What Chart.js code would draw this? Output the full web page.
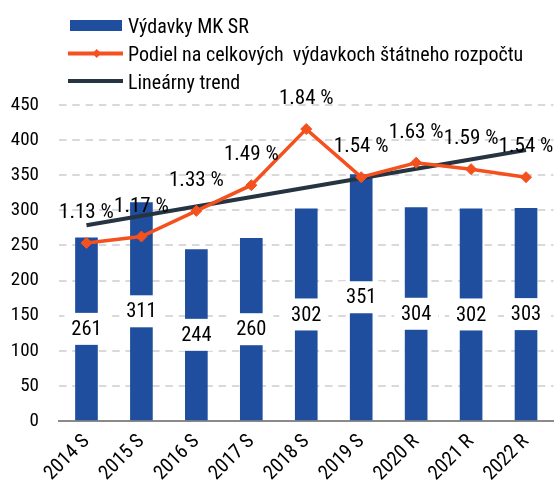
<!DOCTYPE html>
<html>
<head>
<meta charset="utf-8">
<script src="https://cdn.jsdelivr.net/npm/chart.js@4.4.1/dist/chart.umd.min.js"></script>
<style>
  html, body { margin: 0; padding: 0; background: #fff; }
  #wrap { position: relative; width: 560px; height: 485px; overflow: hidden; }
  canvas { position: absolute; left: 0; top: 0; }
  .leg { position: absolute; left: 0; top: 0; font-family: Roboto, 'Liberation Sans', Arial, sans-serif; font-stretch: condensed; font-size: 20px; color: #000; }
  .row { position: absolute; left: 68px; height: 28px; white-space: pre; }
  .row span { position: absolute; left: 60px; top: 1px; line-height: 28px; white-space: pre; }
  .row svg { position: absolute; left: 0; top: 0; }
</style>
</head>
<body>
<div id="wrap">
  <canvas id="c" width="560" height="485"></canvas>
  <div class="leg">
    <div class="row" style="top:11px"><svg width="56" height="28"><rect x="2" y="9" width="52" height="11" fill="#1f4e9e"/></svg><span id="l0"></span></div>
    <div class="row" style="top:39px"><svg width="56" height="28"><line x1="0" y1="14.5" x2="55" y2="14.5" stroke="#f4511e" stroke-width="4"/><path d="M28.7 10 L33 14.5 L28.7 19 L24.4 14.5 Z" fill="#f4511e"/></svg><span id="l1"></span></div>
    <div class="row" style="top:67px"><svg width="56" height="28"><line x1="0" y1="14" x2="55" y2="14" stroke="#263340" stroke-width="4"/></svg><span id="l2"></span></div>
  </div>
</div>
<script>
const categories = ['2014 S', '2015 S', '2016 S', '2017 S', '2018 S', '2019 S', '2020 R', '2021 R', '2022 R'];
const spending = [261, 311, 244, 260, 302, 351, 304, 302, 303];
const sharePct = [1.13, 1.17, 1.33, 1.49, 1.84, 1.54, 1.63, 1.59, 1.54];
const trendStart = 1.24;
const trendEnd = 1.71;
const yTicks = [0, 50, 100, 150, 200, 250, 300, 350, 400, 450];
const seriesNames = ['Výdavky MK SR', 'Podiel na celkových  výdavkoch štátneho rozpočtu', 'Lineárny trend'];

document.getElementById('l0').textContent = seriesNames[0];
document.getElementById('l1').textContent = seriesNames[1];
document.getElementById('l2').textContent = seriesNames[2];

const FONT = "Roboto, 'Liberation Sans', Arial, sans-serif";

const labelPlugin = {
  id: 'valueLabels',
  afterDatasetsDraw(chart) {
    const ctx = chart.ctx;
    ctx.save();
    const barMeta = chart.getDatasetMeta(0);
    ctx.font = 'condensed 20.5px ' + FONT;
    ctx.textAlign = 'center';
    ctx.textBaseline = 'middle';
    barMeta.data.forEach((el, i) => {
      const cy = (el.y + el.base) / 2;
      ctx.fillStyle = '#ffffff';
      ctx.fillRect(el.x - 22, cy - 16, 44, 32);
      ctx.fillStyle = '#000000';
      ctx.fillText(String(spending[i]), el.x, cy + 1);
    });
    const lineMeta = chart.getDatasetMeta(1);
    ctx.font = 'condensed 21px ' + FONT;
    lineMeta.data.forEach((el, i) => {
      ctx.fillStyle = '#000000';
      ctx.fillText(sharePct[i].toFixed(2) + ' %', el.x, el.y - 30);
    });
    ctx.restore();
  }
};

new Chart(document.getElementById('c'), {
  data: {
    labels: categories,
    datasets: [
      {
        type: 'bar',
        label: seriesNames[0],
        data: spending,
        backgroundColor: '#1f4e9e',
        borderWidth: 0,
        barThickness: 22,
        yAxisID: 'y',
        order: 3
      },
      {
        type: 'line',
        label: seriesNames[1],
        data: sharePct,
        borderColor: '#f4511e',
        backgroundColor: '#f4511e',
        borderWidth: 3.5,
        pointStyle: 'rectRot',
        pointRadius: 5.5,
        pointBorderWidth: 1,
        tension: 0,
        yAxisID: 'y2',
        order: 1
      },
      {
        type: 'line',
        label: seriesNames[2],
        data: [{ x: categories[0], y: trendStart }, { x: categories[categories.length - 1], y: trendEnd }],
        borderColor: '#263340',
        backgroundColor: '#263340',
        borderWidth: 4,
        pointRadius: 0,
        tension: 0,
        yAxisID: 'y2',
        order: 2
      }
    ]
  },
  options: {
    responsive: false,
    animation: false,
    layout: { padding: { top: 105, right: 0, left: 0, bottom: 0 } },
    plugins: {
      legend: { display: false },
      tooltip: { enabled: false }
    },
    scales: {
      x: {
        type: 'category',
        offset: true,
        grid: { display: false, drawTicks: false },
        border: { display: true, color: '#8a8a8a', width: 2 },
        ticks: {
          color: '#000',
          font: { family: FONT, size: 20, weight: 'condensed' },
          maxRotation: 45,
          minRotation: 45,
          padding: 9,
          autoSkip: false
        },
        afterFit(scale) { scale.height = 64; }
      },
      y: {
        position: 'left',
        min: 0,
        max: 450,
        afterBuildTicks(scale) { scale.ticks = yTicks.map(v => ({ value: v })); },
        grid: {
          color: (c) => c.tick && c.tick.value === 0 ? 'rgba(0,0,0,0)' : '#d9d9d9',
          lineWidth: 2,
          drawTicks: false
        },
        border: { display: false, dash: [7.5, 5.8] },
        ticks: {
          color: '#000',
          font: { family: FONT, size: 19, weight: 'condensed' },
          padding: 20
        },
        afterFit(scale) { scale.width = 59; }
      },
      y2: {
        position: 'right',
        display: false,
        min: 0.02,
        max: 1.99
      }
    }
  },
  plugins: [labelPlugin]
});
</script>
</body>
</html>
